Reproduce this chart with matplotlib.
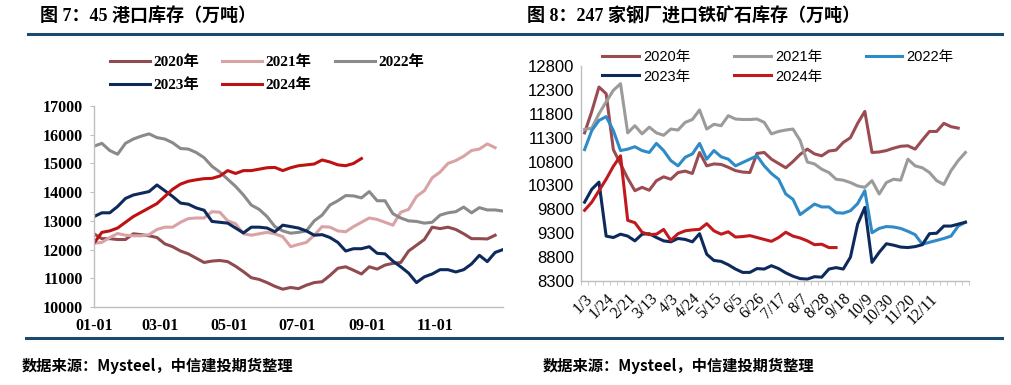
import numpy as np
import pandas as pd
import matplotlib
matplotlib.use("Agg")
import matplotlib.pyplot as plt
import matplotlib.dates as mdates
from matplotlib.lines import Line2D

plt.rcParams['font.family'] = ['Liberation Serif', 'Noto Sans CJK SC']
plt.rcParams['axes.unicode_minus'] = False

# ---------------- 图7：45港口库存（周度）----------------
port_2020 = [12550, 12380, 12380, 12350, 12350, 12550, 12520, 12480, 12420, 12200,
             12100, 11950, 11850, 11700, 11550, 11600, 11620, 11580, 11420, 11230,
             11020, 10960, 10850, 10720, 10620, 10680, 10640, 10760, 10850, 10880,
             11100, 11350, 11400, 11280, 11150, 11400, 11320, 11460, 11520, 11550,
             11950, 12150, 12350, 12780, 12730, 12780, 12700, 12550, 12380, 12380,
             12370, 12500]
port_2021 = [12220, 12250, 12420, 12560, 12500, 12480, 12480, 12520, 12700, 12780,
             12780, 12950, 13080, 13100, 13100, 13320, 13300, 13000, 12900, 12550,
             12500, 12550, 12600, 12550, 12450, 12100, 12180, 12250, 12500, 12800,
             12780, 12650, 12620, 12800, 12950, 13100, 13050, 12950, 12850, 13300,
             13400, 13850, 14050, 14500, 14700, 15000, 15100, 15250, 15450, 15500,
             15680, 15550]
port_2022 = [15600, 15700, 15450, 15320, 15700, 15850, 15950, 16030, 15900, 15850,
             15720, 15520, 15500, 15380, 15200, 14900, 14700, 14450, 14200, 13900,
             13550, 13400, 13150, 12800, 12650, 12570, 12600, 12650, 13000, 13200,
             13550, 13700, 13880, 13870, 13800, 14020, 13700, 13700, 13250, 13100,
             13000, 12980, 12920, 12950, 13200, 13280, 13320, 13480, 13280, 13460,
             13380, 13380, 13340]
port_2023 = [13150, 13280, 13280, 13500, 13780, 13900, 13960, 14020, 14250, 14050,
             13850, 13620, 13580, 13450, 13370, 12980, 12950, 12920, 12750, 12580,
             12780, 12780, 12750, 12620, 12850, 12800, 12750, 12650, 12500, 12520,
             12420, 12250, 11950, 12030, 12030, 12100, 11870, 11850, 11600, 11400,
             11180, 10850, 11050, 11150, 11300, 11300, 11220, 11300, 11500, 11800,
             11580, 11900, 12000]
port_2024 = [12220, 12600, 12650, 12750, 12950, 13150, 13300, 13450, 13600, 13850,
             14100, 14280, 14380, 14430, 14470, 14480, 14560, 14750, 14650, 14750,
             14750, 14800, 14850, 14860, 14750, 14850, 14920, 14950, 14980, 15120,
             15050, 14950, 14920, 15000, 15170]
port_week_start = "2023-01-01"
port_ticks = ["2023-01-01", "2023-03-01", "2023-05-01", "2023-07-01", "2023-09-01", "2023-11-01"]

# ---------------- 图8：247家钢厂进口铁矿石库存 ----------------
mill_dates = ["1/3", "1/10", "1/17", "1/24", "2/7", "2/14", "2/21", "2/28", "3/6", "3/13",
              "3/20", "3/27", "4/3", "4/10", "4/17", "4/24", "5/1", "5/8", "5/15", "5/22",
              "5/29", "6/5", "6/12", "6/19", "6/26", "7/3", "7/10", "7/17", "7/24", "7/31",
              "8/7", "8/14", "8/21", "8/28", "9/4", "9/11", "9/18", "9/25", "10/2", "10/9",
              "10/16", "10/23", "10/30", "11/6", "11/13", "11/20", "11/27", "12/4", "12/11", "12/18",
              "12/20", "12/25", "12/27", "12/31"]
mill_labels = mill_dates[:49:3]
mill_2020 = [11400, 11850, 12360, 12220, 11050, 10750, 10450, 10190, 10260, 10200,
             10400, 10480, 10430, 10570, 10600, 10550, 10990, 10710, 10750, 10740,
             10680, 10610, 10580, 10570, 10970, 10990, 10850, 10760, 10670, 10800,
             10950, 11060, 10960, 10920, 11020, 11040, 11200, 11300, 11600, 11850,
             10990, 11000, 11030, 11080, 11120, 11130, 11060, 11250, 11430, 11430,
             11600, 11530, 11500]
mill_2021 = [11470, 11500, 11800, 12050, 12290, 12430, 11400, 11550, 11380, 11520,
             11400, 11350, 11480, 11460, 11620, 11680, 11880, 11480, 11580, 11550,
             11760, 11690, 11680, 11680, 11690, 11620, 11380, 11430, 11460, 11480,
             11240, 10790, 10750, 10640, 10570, 10430, 10410, 10360, 10290, 10260,
             10400, 10120, 10360, 10430, 10410, 10850, 10710, 10670, 10570, 10400,
             10320, 10610, 10820, 10990]
mill_2022 = [11050, 11450, 11660, 11740, 11450, 11030, 11060, 11110, 11030, 10990,
             11180, 11030, 10820, 10710, 10890, 10960, 11180, 10850, 11030, 10900,
             10850, 10710, 10780, 10850, 10920, 10710, 10550, 10430, 10120, 10010,
             9690, 9800, 9910, 9850, 9850, 9730, 9720, 9770, 9920, 10190,
             9310, 9400, 9440, 9430, 9400, 9340, 9270, 9070, 9110, 9150,
             9190, 9240, 9450, 9530]
mill_2023 = [9950, 10220, 10370, 9240, 9210, 9280, 9240, 9140, 9280, 9290,
             9210, 9140, 9120, 9190, 9170, 9120, 9290, 8860, 8730, 8710,
             8640, 8550, 8480, 8480, 8560, 8550, 8620, 8560, 8470, 8400,
             8350, 8340, 8390, 8380, 8550, 8580, 8550, 8800, 9490, 9840,
             8690, 8900, 9080, 9050, 9010, 9000, 9020, 9060, 9290, 9300,
             9450, 9450, 9490, 9530]
mill_2024 = [9780, 9950, 10190, 10430, 10700, 10920, 9570, 9520, 9320, 9270,
             9280, 9380, 9150, 9290, 9350, 9370, 9380, 9500, 9350, 9280,
             9330, 9220, 9230, 9250, 9210, 9170, 9130, 9210, 9320, 9240,
             9200, 9140, 9060, 9070, 9000, 9000]

years = ["2020年", "2021年", "2022年", "2023年", "2024年"]
left_colors = ["#8F4B50", "#D9A3A5", "#8A8A8A", "#0E2A5C", "#BE1111"]
right_colors = ["#9A4C52", "#9B9B9B", "#2E8BC8", "#0E2A5C", "#C01A1E"]
rule_color = "#1A4A6E"
spine_color = "#BFBFBF"

W, H = 1012, 385
fig = plt.figure(figsize=(W / 100, H / 100), dpi=100)


def fx(px):
    return px / W


def fy(py):
    return 1 - py / H


# horizontal rules and headings
fig.add_artist(Line2D([fx(28), fx(1002)], [fy(34), fy(34)], color=rule_color, lw=2.2))
fig.add_artist(Line2D([fx(26), fx(1002)], [fy(338), fy(338)], color=rule_color, lw=2.2))
fig.text(fx(40), fy(16), "图 7：45 港口库存（万吨）", fontsize=13, fontweight='bold', va='center')
fig.text(fx(527), fy(16), "图 8：247 家钢厂进口铁矿石库存（万吨）", fontsize=13, fontweight='bold', va='center')
src_font = ['Noto Sans CJK SC']
fig.text(fx(22), fy(366), "数据来源：Mysteel，中信建投期货整理", fontsize=11, fontweight='bold',
         va='center', family=src_font)
fig.text(fx(543), fy(366), "数据来源：Mysteel，中信建投期货整理", fontsize=11, fontweight='bold',
         va='center', family=src_font)

# ---------------- left chart ----------------
ax1 = fig.add_axes([fx(94), fy(307), fx(409), (307 - 106) / H])
weeks = pd.date_range(port_week_start, periods=53, freq="7D")
left_series = [port_2020, port_2021, port_2022, port_2023, port_2024]
left_lines = []
for vals, name, c in zip(left_series, years, left_colors):
    ln, = ax1.plot(weeks[:len(vals)], vals, color=c, lw=2.2, label=name)
    left_lines.append(ln)
ax1.set_xlim(pd.Timestamp("2023-01-01"), pd.Timestamp("2023-12-31"))
ax1.set_ylim(10000, 17000)
ax1.set_yticks(np.arange(10000, 17001, 1000))
ax1.set_xticks(pd.to_datetime(port_ticks))
ax1.xaxis.set_major_formatter(mdates.DateFormatter("%m-%d"))
for s in ["top", "right"]:
    ax1.spines[s].set_visible(False)
for s in ["left", "bottom"]:
    ax1.spines[s].set_color(spine_color)
    ax1.spines[s].set_linewidth(1.0)
ax1.tick_params(axis='y', direction='out', length=3, color=spine_color, pad=5, labelsize=11.5)
ax1.tick_params(axis='x', length=0, pad=8, labelsize=11.5)
for lab in ax1.get_xticklabels() + ax1.get_yticklabels():
    lab.set_fontweight('bold')

order = [0, 3, 1, 4, 2]
fig.legend([left_lines[i] for i in order], [years[i] for i in order], ncol=3,
           loc='upper left', bbox_to_anchor=(fx(96), fy(42)), frameon=False,
           handlelength=2.64, handletextpad=0.22, columnspacing=1.5, labelspacing=0.6,
           prop={'size': 11, 'weight': 'bold'})

# ---------------- right chart ----------------
ax2 = fig.add_axes([fx(581), fy(281), fx(388), (281 - 66) / H])
right_series = [mill_2020, mill_2021, mill_2022, mill_2023, mill_2024]
right_lines = []
for vals, name, c in zip(right_series, years, right_colors):
    ln, = ax2.plot(mill_dates[:len(vals)], vals, color=c, lw=2.2, label=name)
    right_lines.append(ln)
n = len(mill_dates)
ax2.set_xlim(-0.5, n - 0.5)
ax2.set_ylim(8300, 12800)
ax2.set_yticks(np.arange(8300, 12801, 500))
ax2.set_xticks(range(0, 49, 3))
ax2.set_xticklabels(mill_labels, rotation=45, ha='right', rotation_mode='anchor')
ax2.set_xticks(np.arange(-0.5, n, 1), minor=True)
for s in ["top", "right"]:
    ax2.spines[s].set_visible(False)
for s in ["left", "bottom"]:
    ax2.spines[s].set_color(spine_color)
    ax2.spines[s].set_linewidth(1.0)
ax2.tick_params(axis='y', length=0, pad=5, labelsize=12)
ax2.tick_params(axis='x', which='major', length=0, pad=7, labelsize=11.5)
ax2.tick_params(axis='x', which='minor', direction='out', length=3, color=spine_color)
for lab in ax2.get_yticklabels():
    lab.set_family(['Liberation Sans', 'Noto Sans CJK SC'])

fig.legend([right_lines[i] for i in order], [years[i] for i in order], ncol=3,
           loc='upper left', bbox_to_anchor=(fx(589), fy(37)), frameon=False,
           handlelength=2.5, handletextpad=0.3, columnspacing=3.0, labelspacing=0.37,
           prop={'size': 10.5, 'family': ['Liberation Sans', 'Noto Sans CJK SC']})

fig.savefig("out.png", dpi=100)
